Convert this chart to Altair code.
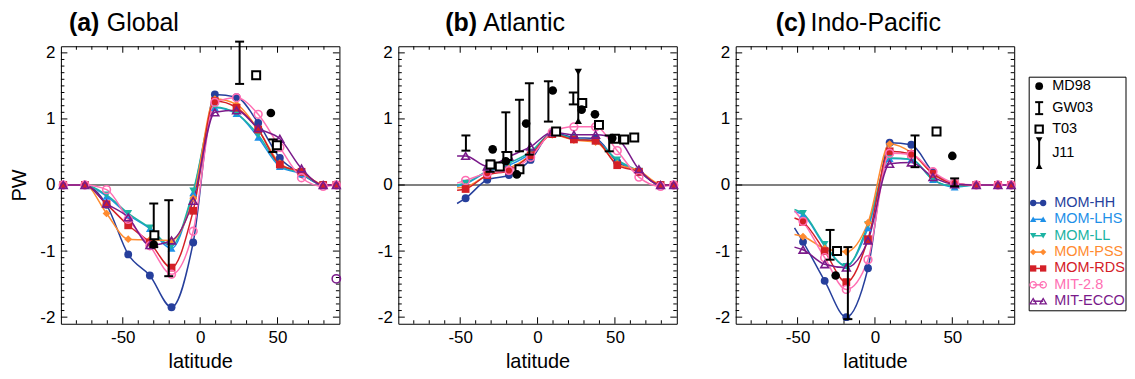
import altair as alt
import pandas as pd

FONT = "Liberation Sans"

# ---------------- data ----------------
MODELS = ["MOM-HH", "MOM-LHS", "MOM-LL", "MOM-PSS", "MOM-RDS", "MIT-2.8", "MIT-ECCO"]
COLORS = ["#263f9c", "#1e90e8", "#1cb3a3", "#ff8b30", "#d42027", "#ff6fb3", "#7a1a8a"]
SHAPES = ["circle", "triangle-up", "triangle-down", "diamond", "square", "circle", "triangle-up"]
SIZES = [62, 60, 60, 42, 62, 64, 64]
OPEN_MODELS = ["MIT-2.8", "MIT-ECCO"]

LAT_A = [-88.5, -74.5, -60.5, -46.5, -32.5, -18.5, -4.5, 9.5, 23.5, 37.5, 51.5, 65.5, 79.5, 88]
LAT_BC = [-52, -46.5, -32.5, -18.5, -4.5, 9.5, 23.5, 37.5, 51.5, 65.5, 79.5, 88]

GLOBAL_PW = {
    "MOM-HH":   [0, 0, -0.30, -1.05, -1.37, -1.85, -0.87, 1.37, 1.33, 0.94, 0.41, 0.17, 0, 0],
    "MOM-LHS":  [0, 0, -0.17, -0.45, -0.66, -0.96, -0.12, 1.17, 1.08, 0.72, 0.28, 0.17, 0, 0],
    "MOM-LL":   [0, 0, -0.15, -0.43, -0.65, -0.92, -0.09, 1.18, 1.08, 0.76, 0.30, 0.18, 0, 0],
    "MOM-PSS":  [0, 0, -0.43, -0.82, -0.83, -0.84, -0.20, 1.30, 1.22, 0.84, 0.33, 0.19, 0.01, 0],
    "MOM-RDS":  [0, 0, -0.29, -0.61, -0.87, -1.25, -0.39, 1.27, 1.17, 0.84, 0.31, 0.20, 0, 0],
    "MIT-2.8":  [0, 0, -0.07, -0.52, -0.92, -1.35, -0.70, 1.25, 1.32, 1.07, 0.57, 0.11, -0.02, 0],
    "MIT-ECCO": [0, 0, -0.28, -0.49, -0.91, -0.84, -0.24, 1.10, 1.13, 0.86, 0.70, 0.25, 0, 0],
}
ATLANTIC_PW = {
    "MOM-HH":   [-0.28, -0.20, 0.08, 0.15, 0.38, 0.79, 0.72, 0.70, 0.35, 0.20, 0, 0],
    "MOM-LHS":  [-0.02, 0.02, 0.20, 0.30, 0.48, 0.77, 0.70, 0.67, 0.37, 0.20, 0, 0],
    "MOM-LL":   [0.00, 0.03, 0.21, 0.33, 0.50, 0.78, 0.70, 0.66, 0.38, 0.21, 0, 0],
    "MOM-PSS":  [-0.04, -0.03, 0.15, 0.25, 0.45, 0.76, 0.68, 0.65, 0.32, 0.22, 0.01, 0],
    "MOM-RDS":  [-0.08, -0.06, 0.15, 0.22, 0.45, 0.77, 0.69, 0.67, 0.30, 0.20, 0, 0],
    "MIT-2.8":  [0.03, 0.07, 0.18, 0.22, 0.42, 0.80, 0.88, 0.88, 0.52, 0.12, -0.02, 0],
    "MIT-ECCO": [0.44, 0.44, 0.28, 0.43, 0.58, 0.80, 0.76, 0.76, 0.70, 0.24, 0, 0],
}
INDOPAC_PW = {
    "MOM-HH":   [-0.65, -0.86, -1.45, -2.00, -1.26, 0.64, 0.61, 0.20, 0.02, 0, 0, 0],
    "MOM-LHS":  [-0.40, -0.45, -0.92, -1.22, -0.65, 0.40, 0.39, 0.08, -0.03, 0, 0, 0],
    "MOM-LL":   [-0.37, -0.43, -0.90, -1.23, -0.60, 0.41, 0.39, 0.08, -0.02, 0, 0, 0],
    "MOM-PSS":  [-0.75, -0.78, -0.96, -1.01, -0.57, 0.62, 0.49, 0.17, 0.02, 0, 0, 0],
    "MOM-RDS":  [-0.50, -0.56, -1.00, -1.47, -0.82, 0.51, 0.47, 0.17, 0.02, 0, 0, 0],
    "MIT-2.8":  [-0.39, -0.55, -1.10, -1.58, -1.13, 0.48, 0.46, 0.20, 0.03, 0, 0, 0],
    "MIT-ECCO": [-0.94, -0.98, -1.20, -1.25, -0.84, 0.32, 0.34, 0.12, 0.01, 0, 0, 0],
}

# observations
A_MD98_LAT = [-30, 45.7]
A_MD98_PW = [-0.90, 1.09]
A_GW03_LAT = [-30, -20.3, 25.5, 47]
A_GW03_LO = [-0.94, -1.38, 1.53, 0.50]
A_GW03_HI = [-0.28, -0.23, 2.17, 0.69]
A_T03_LAT = [-29.6, 36.2, 49.6]
A_T03_PW = [-0.76, 1.66, 0.60]
A_ECCO_EXTRA_LAT = [88]
A_ECCO_EXTRA_PW = [-1.42]

B_MD98_LAT = [-29, -20.5, -13.4, -7.4, 9.8, 28.5, 37.1, 48.3]
B_MD98_PW = [0.54, 0.36, 0.16, 0.93, 1.43, 1.14, 1.07, 0.71]
B_GW03_LAT = [-46.3, -30.6, -20.5, -11.7, -5.3, 7, 23.1, 46.3]
B_GW03_LO = [0.52, 0.20, 0.50, 0.51, 0.46, 0.96, 1.22, 0.51]
B_GW03_HI = [0.75, 0.37, 1.10, 1.29, 1.54, 1.57, 1.40, 0.75]
B_T03_LAT = [-30.4, -24.4, -19.5, -11.7, 12, 28.9, 39.7, 50, 56, 62.5]
B_T03_PW = [0.31, 0.28, 0.44, 0.24, 0.81, 1.24, 0.91, 0.70, 0.69, 0.72]
B_J11_LAT = [26.3]
B_J11_LO = [0.97]
B_J11_HI = [1.71]

C_MD98_LAT = [-25.4, 50]
C_MD98_PW = [-1.37, 0.44]
C_GW03_LAT = [-29, -17.5, 25.9, 51.5]
C_GW03_LO = [-1.13, -2.03, 0.27, -0.02]
C_GW03_HI = [-0.68, -0.94, 0.75, 0.10]
C_T03_LAT = [-24.5, 39.8]
C_T03_PW = [-1.0, 0.81]

X_TICK_LABELS = [-50, 0, 50]
Y_TICK_LABELS = [-2, -1, 0, 1, 2]
OBS_NAMES = ["MD98", "GW03", "T03", "J11"]

# ---------------- layout / style ----------------
W, H = 279, 278
XMIN, XMAX, YMIN, YMAX = -90, 90, -2.1, 2.1
MAJ, MIN = 6.5, 3.5
X_MINOR = [v for v in range(-80, 90, 10) if v % 50 != 0]
Y_MINOR = [round(-2 + 0.1 * k, 1) for k in range(41) if k % 10 != 0]
KX = (XMAX - XMIN) / W   # data units per pixel
KY = (YMAX - YMIN) / H

xscale = alt.Scale(domain=[XMIN, XMAX], nice=False, zero=False)
yscale = alt.Scale(domain=[YMIN, YMAX], nice=False, zero=False)
color_enc = alt.Color("model:N", scale=alt.Scale(domain=MODELS, range=COLORS), legend=None)
shape_enc = alt.Shape("model:N", scale=alt.Scale(domain=MODELS, range=SHAPES), legend=None)
size_enc = alt.Size("model:N", scale=alt.Scale(domain=MODELS, range=SIZES), legend=None)


def model_frame(values, lats, first_marker):
    rows = []
    for m in MODELS:
        for i, (la, v) in enumerate(zip(lats, values[m])):
            rows.append({"model": m, "lat": la, "pw": v,
                         "mk": i >= first_marker, "op": m in OPEN_MODELS})
    return pd.DataFrame(rows)


def tick_frame():
    rows = []
    tid = 0
    for vals, L in ((X_MINOR, MIN), (X_TICK_LABELS, MAJ)):
        for v in vals:
            for edge, sgn in ((YMAX, -1), (YMIN, 1)):
                rows.append({"tid": tid, "lat": v, "pw": edge})
                rows.append({"tid": tid, "lat": v, "pw": edge + sgn * L * KY})
                tid += 1
    for vals, L in ((Y_MINOR, MIN), (Y_TICK_LABELS, MAJ)):
        for v in vals:
            for edge, sgn in ((XMIN, 1), (XMAX, -1)):
                rows.append({"tid": tid, "lat": edge, "pw": v})
                rows.append({"tid": tid, "lat": edge + sgn * L * KX, "pw": v})
                tid += 1
    return pd.DataFrame(rows)


TICKS = tick_frame()


def panel(values, lats, first_marker, obs, letter, name, name_dx, letter_dx, ytitle):
    xaxis = alt.Axis(values=X_TICK_LABELS, title="latitude", labelExpr="datum.value + ''",
                     tickSize=0, domain=False, grid=False, labelPadding=6, titlePadding=6)
    if ytitle:
        yaxis = alt.Axis(values=Y_TICK_LABELS, title="PW", labelExpr="datum.value + ''",
                         tickSize=0, domain=False, grid=False, labelPadding=6, titlePadding=10)
    else:
        yaxis = alt.Axis(values=Y_TICK_LABELS, title=None, labelExpr="datum.value + ''",
                         tickSize=0, domain=False, grid=False, labelPadding=6)

    def X(f="lat"):
        return alt.X(f"{f}:Q", scale=xscale, axis=xaxis)

    def Y(f="pw"):
        return alt.Y(f"{f}:Q", scale=yscale, axis=yaxis)

    layers = []
    # zero line
    layers.append(alt.Chart(pd.DataFrame({"pw": [0]})).mark_rule(color="black", strokeWidth=1)
                  .encode(y=Y()))
    # inward ticks on all four sides
    layers.append(alt.Chart(TICKS).mark_line(color="black", strokeWidth=1)
                  .encode(x=X(), y=Y(), detail="tid:N"))

    df = model_frame(values, lats, first_marker)
    base = alt.Chart(df)
    layers.append(base.mark_line(interpolate="monotone", strokeWidth=1.5)
                  .encode(x=X(), y=Y(), color=color_enc, detail="model:N"))
    layers.append(base.transform_filter("datum.mk && !datum.op")
                  .mark_point(filled=True, opacity=1)
                  .encode(x=X(), y=Y(), color=color_enc, shape=shape_enc, size=size_enc))
    layers.append(base.transform_filter("datum.mk && datum.op")
                  .mark_point(filled=False, opacity=1, strokeWidth=1.6)
                  .encode(x=X(), y=Y(), color=color_enc, shape=shape_enc, size=size_enc))

    # observations
    if "gw" in obs:
        lat, lo, hi = obs["gw"]
        d = pd.DataFrame({"lat": lat, "lo": lo, "hi": hi})
        layers.append(alt.Chart(d).mark_rule(color="black", strokeWidth=2)
                      .encode(x=X(), y=Y("lo"), y2="hi:Q"))
        for f in ("lo", "hi"):
            layers.append(alt.Chart(d).mark_tick(color="black", thickness=2, size=9,
                                                 orient="horizontal", opacity=1)
                          .encode(x=X(), y=Y(f)))
    if "j11" in obs:
        lat, lo, hi = obs["j11"]
        d = pd.DataFrame({"lat": lat, "lo": lo, "hi": hi})
        layers.append(alt.Chart(d).mark_rule(color="black", strokeWidth=2)
                      .encode(x=X(), y=Y("lo"), y2="hi:Q"))
        layers.append(alt.Chart(d).mark_point(shape="triangle-down", filled=True, color="black",
                                              size=55, opacity=1).encode(x=X(), y=Y("hi")))
        layers.append(alt.Chart(d).mark_point(shape="triangle-up", filled=True, color="black",
                                              size=55, opacity=1).encode(x=X(), y=Y("lo")))
    if "t03" in obs:
        lat, pw = obs["t03"]
        d = pd.DataFrame({"lat": lat, "pw": pw})
        layers.append(alt.Chart(d).mark_point(shape="square", filled=True, fill="white",
                                              stroke="black", strokeWidth=2, size=64, opacity=1)
                      .encode(x=X(), y=Y()))
    if "md" in obs:
        lat, pw = obs["md"]
        d = pd.DataFrame({"lat": lat, "pw": pw})
        layers.append(alt.Chart(d).mark_point(shape="circle", filled=True, color="black",
                                              size=75, opacity=1)
                      .encode(x=X(), y=Y()))
    if "extra" in obs:
        lat, pw = obs["extra"]
        d = pd.DataFrame({"lat": lat, "pw": pw})
        layers.append(alt.Chart(d).mark_point(shape="circle", filled=False, color=COLORS[6],
                                              size=70, strokeWidth=1.5, opacity=1)
                      .encode(x=X(), y=Y()))

    one = pd.DataFrame({"t": [0]})
    layers.append(alt.Chart(one).mark_text(text=letter, font=FONT, fontSize=25, fontWeight="bold",
                                           align="left", baseline="alphabetic", color="black")
                  .encode(x=alt.value(letter_dx), y=alt.value(-15)))
    layers.append(alt.Chart(one).mark_text(text=name, font=FONT, fontSize=25,
                                           align="left", baseline="alphabetic", color="black")
                  .encode(x=alt.value(letter_dx + name_dx), y=alt.value(-15)))
    return alt.layer(*layers).properties(width=W, height=H)


pa = panel(GLOBAL_PW, LAT_A, 0,
           {"md": (A_MD98_LAT, A_MD98_PW), "gw": (A_GW03_LAT, A_GW03_LO, A_GW03_HI),
            "t03": (A_T03_LAT, A_T03_PW), "extra": (A_ECCO_EXTRA_LAT, A_ECCO_EXTRA_PW)},
           "(a)", "Global", 38, 8, True)
pb = panel(ATLANTIC_PW, LAT_BC, 1,
           {"md": (B_MD98_LAT, B_MD98_PW), "gw": (B_GW03_LAT, B_GW03_LO, B_GW03_HI),
            "t03": (B_T03_LAT, B_T03_PW), "j11": (B_J11_LAT, B_J11_LO, B_J11_HI)},
           "(b)", "Atlantic", 38, 47, False)
pc = panel(INDOPAC_PW, LAT_BC, 1,
           {"md": (C_MD98_LAT, C_MD98_PW), "gw": (C_GW03_LAT, C_GW03_LO, C_GW03_HI),
            "t03": (C_T03_LAT, C_T03_PW)},
           "(c)", "Indo-Pacific", 35, 40, False)

# ---------------- legend panel (pixel coordinates) ----------------
LX = -44            # box left relative to legend panel origin
BOXW = 97
obs_y = [40, 62, 83, 107]
mod_y = [157, 173.4, 189.8, 206.2, 222.6, 239, 255.4]


def IX(f):
    return alt.X(f"{f}:Q", scale=None, axis=None)


def IY(f):
    return alt.Y(f"{f}:Q", scale=None, axis=None)


leg_layers = []
leg_layers.append(alt.Chart(pd.DataFrame({"t": [0]})).mark_rect(fillOpacity=0, stroke="black",
                                                                 strokeWidth=1)
                  .encode(x=alt.value(LX), x2=alt.value(LX + BOXW), y=alt.value(31), y2=alt.value(265)))
otext = pd.DataFrame({"name": OBS_NAMES, "px": [LX + 23] * 4, "py": obs_y})
leg_layers.append(alt.Chart(otext).mark_text(font=FONT, fontSize=14.5, align="left", baseline="middle",
                                             color="black")
                  .encode(x=IX("px"), y=IY("py"), text="name:N"))
sx = LX + 10
leg_layers.append(alt.Chart(pd.DataFrame({"px": [sx], "py": [obs_y[0]]}))
                  .mark_point(shape="circle", filled=True, color="black", size=60, opacity=1)
                  .encode(x=IX("px"), y=IY("py")))
gwl = pd.DataFrame({"px": [sx], "p1": [obs_y[1] - 6], "p2": [obs_y[1] + 6]})
leg_layers.append(alt.Chart(gwl).mark_rule(color="black", strokeWidth=2)
                  .encode(x=IX("px"), y=IY("p1"), y2="p2:Q"))
for f in ("p1", "p2"):
    leg_layers.append(alt.Chart(gwl).mark_tick(color="black", thickness=2, size=8,
                                               orient="horizontal", opacity=1)
                      .encode(x=IX("px"), y=IY(f)))
leg_layers.append(alt.Chart(pd.DataFrame({"px": [sx], "py": [obs_y[2]]}))
                  .mark_point(shape="square", filled=True, fill="white", stroke="black",
                              strokeWidth=2, size=55, opacity=1)
                  .encode(x=IX("px"), y=IY("py")))
j = pd.DataFrame({"px": [sx], "p1": [obs_y[3] - 13], "p2": [obs_y[3] + 13]})
leg_layers.append(alt.Chart(j).mark_rule(color="black", strokeWidth=2)
                  .encode(x=IX("px"), y=IY("p1"), y2="p2:Q"))
leg_layers.append(alt.Chart(j).mark_point(shape="triangle-down", filled=True, color="black",
                                          size=45, opacity=1).encode(x=IX("px"), y=IY("p1")))
leg_layers.append(alt.Chart(j).mark_point(shape="triangle-up", filled=True, color="black",
                                          size=45, opacity=1).encode(x=IX("px"), y=IY("p2")))

mrows = []
for m, yy in zip(MODELS, mod_y):
    mrows.append({"model": m, "px": LX + 4, "px2": LX + 14, "py": yy, "tx": LX + 25,
                  "op": m in OPEN_MODELS})
md = pd.DataFrame(mrows)
leg_layers.append(alt.Chart(md).mark_rule(strokeWidth=1.5)
                  .encode(x=IX("px"), x2="px2:Q", y=IY("py"), color=color_enc))
for f in ("px", "px2"):
    leg_layers.append(alt.Chart(md).transform_filter("!datum.op")
                      .mark_point(filled=True, opacity=1, size=40)
                      .encode(x=IX(f), y=IY("py"), color=color_enc, shape=shape_enc))
    leg_layers.append(alt.Chart(md).transform_filter("datum.op")
                      .mark_point(filled=False, opacity=1, size=40, strokeWidth=1.3)
                      .encode(x=IX(f), y=IY("py"), color=color_enc, shape=shape_enc))
leg_layers.append(alt.Chart(md).mark_text(font=FONT, fontSize=14.5, align="left", baseline="middle")
                  .encode(x=IX("tx"), y=IY("py"), text="model:N", color=color_enc))

legend = alt.layer(*leg_layers).properties(width=40, height=H,
                                           view=alt.ViewBackground(stroke="transparent"))

chart = (alt.hconcat(pa, pb, pc, legend, spacing=59, bounds="flush")
         .properties(padding={"left": 1, "top": 2, "right": 0, "bottom": -2})
         .configure(font=FONT)
         .configure_axis(labelFont=FONT, titleFont=FONT, labelFontSize=17, titleFontSize=20,
                         titleFontWeight="normal", labelColor="black", titleColor="black")
         .configure_view(stroke="black", strokeWidth=1))

chart.save("out.html", embed_options={"renderer": "svg", "actions": False})
